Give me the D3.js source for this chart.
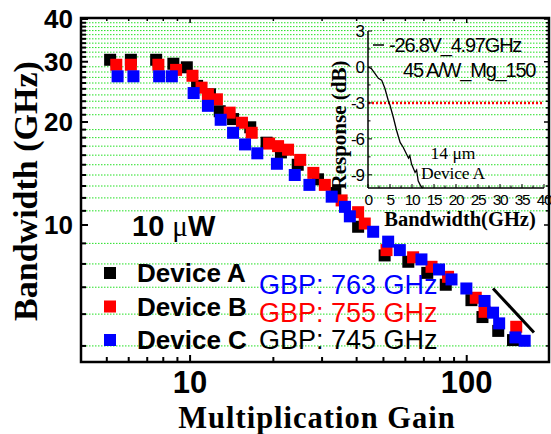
<!DOCTYPE html>
<html>
<head>
<meta charset="utf-8">
<script src="https://cdn.jsdelivr.net/npm/d3@7"></script>
<style>
  body { margin: 0; background: #fff; }
  svg text { fill: #000; }
</style>
</head>
<body>
<div id="chart"></div>
<script>
const width = 551;
const height = 434;

// gain vs bandwidth, three devices
const gainA = [5.14, 6.11, 7.54, 8.70, 9.73, 10.6, 11.8, 12.8, 14.3, 16.5, 18.9, 21.3, 24.5, 29.0, 33.5, 40.5, 50.5, 61.5, 72.0, 84.0, 104, 114, 130, 147];
const bwA   = [30.4, 30.4, 30.4, 29.6, 28.9, 25.5, 24.1, 21.5, 20.4, 19.3, 17.4, 16.3, 15.0, 13.6, 12.4, 9.90, 8.40, 8.10, 7.60, 7.10, 6.50, 5.90, 5.45, 5.17];

const gainB = [5.41, 6.11, 7.68, 8.90, 10.2, 11.0, 11.6, 12.5, 13.9, 15.4, 16.7, 19.3, 20.8, 22.6, 25.0, 27.9, 30.7, 35.3, 40.5, 42.8, 51.3, 64.0, 74.6, 85.6, 107.8, 116, 151];
const bwB   = [29.4, 29.4, 29.4, 28.4, 27.3, 25.2, 24.1, 23.3, 21.3, 19.9, 18.6, 17.3, 17.0, 16.6, 15.5, 14.2, 13.1, 11.8, 10.9, 10.1, 8.66, 8.31, 7.87, 7.43, 6.59, 6.08, 5.58];

const gainC = [5.47, 6.24, 7.73, 8.59, 10.3, 11.6, 12.9, 14.3, 15.8, 17.5, 20.6, 23.9, 27.0, 32.5, 36.3, 37.8, 45.9, 52.0, 57.3, 68.6, 79.4, 88.1, 99.7, 116, 124.5, 131, 150, 162];
const bwC   = [27.2, 27.2, 27.2, 27.2, 24.3, 22.3, 20.3, 18.6, 17.2, 16.2, 15.1, 14.0, 13.1, 12.1, 11.3, 10.6, 9.62, 9.09, 8.66, 8.21, 7.75, 7.32, 6.95, 6.47, 6.05, 5.69, 5.25, 5.15];

const deviceNames = ['Device A', 'Device B', 'Device C'];
const deviceColors = ['#000000', '#ff0000', '#0000ff'];
const gbpLabels = ['GBP: 763 GHz', 'GBP: 755 GHz', 'GBP: 745 GHz'];
const gbpColors = ['#0000ff', '#ff0000', '#000000'];

// slope guide line
const guideGain = [124.5, 175];
const guideBw = [6.95, 5.4];

const xTickLabels = [10, 100];
const yTickLabels = [10, 20, 30, 40];

// inset: frequency response
const insetFreq = [0, 0.8, 1.6, 2.35, 3.1, 3.85, 4.6, 5.0, 5.75, 6.5, 7.3, 8.0, 8.8, 9.2, 9.5, 9.9, 10.7, 11.05, 11.4, 11.8, 12.2, 12.5];
const insetResp = [0, -0.15, -0.55, -0.95, -1.1, -1.8, -2.8, -3.2, -4.2, -5.3, -6.3, -6.7, -7.3, -7.6, -7.4, -8.1, -8.8, -8.6, -9.5, -9.8, -10.05, -10.1];
const insetXTicks = [0, 5, 10, 15, 20, 25, 30, 35, 40];
const insetYTicks = [3, 0, -3, -6, -9];

const svg = d3.select('#chart').append('svg')
    .attr('width', width)
    .attr('height', height);

const x = d3.scaleLog().domain([4, 200]).range([80, 550]);
const y = d3.scaleLog().domain([4.56, 10, 40]).range([362, 225, 19]);

const plotL = 81, plotR = 549, plotT = 18, plotB = 362;
const sans = 'Liberation Sans, Arial, sans-serif';
const serif = 'Liberation Serif, Times New Roman, serif';

// green dotted grid on the minor values
const minorY = d3.range(5, 40).filter(v => v % 10 !== 0);
svg.append('g').selectAll('line')
    .data(minorY)
    .join('line')
    .attr('x1', plotL + 2)
    .attr('x2', plotR - 2)
    .attr('y1', d => y(d))
    .attr('y2', d => y(d))
    .attr('stroke', '#22e022')
    .attr('stroke-width', 1)
    .attr('stroke-dasharray', '1.5,1.5');

// axes (ticks inward)
const minorX = [5, 6, 7, 8, 9, 20, 30, 40, 50, 60, 70, 80, 90];
const axisG = svg.append('g');
axisG.selectAll('.xt')
    .data(minorX.concat(xTickLabels))
    .join('line')
    .attr('x1', d => x(d)).attr('x2', d => x(d))
    .attr('y1', plotB).attr('y2', d => plotB - (xTickLabels.includes(d) ? 7 : 5))
    .attr('stroke', '#000').attr('stroke-width', 2);
axisG.selectAll('.xtt')
    .data(minorX.concat(xTickLabels))
    .join('line')
    .attr('x1', d => x(d)).attr('x2', d => x(d))
    .attr('y1', plotT).attr('y2', d => plotT + (xTickLabels.includes(d) ? 5 : 3))
    .attr('stroke', '#000').attr('stroke-width', 1.5);
const allY = d3.range(5, 41);
axisG.selectAll('.yt')
    .data(allY)
    .join('line')
    .attr('x1', plotL).attr('x2', d => plotL + (yTickLabels.includes(d) ? 7 : 5))
    .attr('y1', d => y(d)).attr('y2', d => y(d))
    .attr('stroke', '#000').attr('stroke-width', 2);
axisG.selectAll('.ytr')
    .data(allY)
    .join('line')
    .attr('x1', plotR).attr('x2', d => plotR - (yTickLabels.includes(d) ? 5 : 3))
    .attr('y1', d => y(d)).attr('y2', d => y(d))
    .attr('stroke', '#000').attr('stroke-width', 1.5);

svg.append('rect')
    .attr('x', plotL).attr('y', plotT)
    .attr('width', plotR - plotL).attr('height', plotB - plotT)
    .attr('fill', 'none').attr('stroke', '#000').attr('stroke-width', 2.5);

svg.append('g').selectAll('text')
    .data(xTickLabels)
    .join('text')
    .attr('x', d => x(d))
    .attr('y', 393)
    .attr('text-anchor', 'middle')
    .attr('font-family', sans)
    .attr('font-weight', 'bold')
    .attr('font-size', 31)
    .text(d => d);

svg.append('g').selectAll('text')
    .data(yTickLabels)
    .join('text')
    .attr('x', 73)
    .attr('y', d => y(d) + 9)
    .attr('text-anchor', 'end')
    .attr('font-family', sans)
    .attr('font-weight', 'bold')
    .attr('font-size', 26)
    .text(d => d);

svg.append('text')
    .attr('x', 317).attr('y', 427.5)
    .attr('text-anchor', 'middle')
    .attr('font-family', serif)
    .attr('font-weight', 'bold')
    .attr('font-size', 30.5)
    .attr('letter-spacing', 1)
    .text('Multiplication Gain');

svg.append('text')
    .attr('transform', 'translate(37,191) rotate(-90)')
    .attr('text-anchor', 'middle')
    .attr('font-family', serif)
    .attr('font-weight', 'bold')
    .attr('font-size', 34)
    .text('Bandwidth (GHz)');

// inset
const ix = d3.scaleLinear().domain([0, 40]).range([368, 544]);
const iy = d3.scaleLinear().domain([-10.1, 3]).range([188, 31]);
const inset = svg.append('g');

inset.append('line')
    .attr('x1', ix(0)).attr('x2', ix(40))
    .attr('y1', iy(-3)).attr('y2', iy(-3))
    .attr('stroke', '#ff0000').attr('stroke-width', 2.5)
    .attr('stroke-dasharray', '2,2');

inset.append('path')
    .datum(d3.zip(insetFreq, insetResp))
    .attr('d', d3.line().x(d => ix(d[0])).y(d => iy(d[1])))
    .attr('fill', 'none').attr('stroke', '#000').attr('stroke-width', 1.3);

inset.append('line')
    .attr('x1', ix(0)).attr('x2', ix(40)).attr('y1', iy(-10.1)).attr('y2', iy(-10.1))
    .attr('stroke', '#000').attr('stroke-width', 1.5);
inset.append('line')
    .attr('x1', ix(0)).attr('x2', ix(0)).attr('y1', iy(-10.1)).attr('y2', iy(3))
    .attr('stroke', '#000').attr('stroke-width', 1.5);
inset.selectAll('.ixt')
    .data(d3.range(0, 40.1, 2.5))
    .join('line')
    .attr('x1', d => ix(d)).attr('x2', d => ix(d))
    .attr('y1', iy(-10.1)).attr('y2', d => iy(-10.1) - (d % 5 === 0 ? 4 : 2.5))
    .attr('stroke', '#000').attr('stroke-width', 1);
inset.selectAll('.iyt')
    .data(d3.range(-9, 3.1, 1.5))
    .join('line')
    .attr('x1', ix(0)).attr('x2', d => ix(0) + (d % 3 === 0 ? 4 : 2.5))
    .attr('y1', d => iy(d)).attr('y2', d => iy(d))
    .attr('stroke', '#000').attr('stroke-width', 1);

inset.selectAll('.ixl')
    .data(insetXTicks)
    .join('text')
    .attr('x', d => ix(d)).attr('y', 204.5)
    .attr('text-anchor', 'middle')
    .attr('font-family', sans)
    .attr('font-size', 15.5).attr('letter-spacing', -1.4)
    .text(d => d);
inset.selectAll('.iyl')
    .data(insetYTicks)
    .join('text')
    .attr('x', 364).attr('y', d => iy(d) + 6)
    .attr('text-anchor', 'end')
    .attr('font-family', sans)
    .attr('font-size', 17).attr('letter-spacing', -1)
    .text(d => d);

inset.append('text')
    .attr('x', 460).attr('y', 226)
    .attr('text-anchor', 'middle')
    .attr('font-family', serif)
    .attr('font-weight', 'bold')
    .attr('font-size', 20.5)
    .text('Bandwidth(GHz)');
inset.append('text')
    .attr('transform', 'translate(346,125) rotate(-90)')
    .attr('text-anchor', 'middle')
    .attr('font-family', serif)
    .attr('font-weight', 'bold')
    .attr('font-size', 21)
    .text('Response (dB)');

inset.append('line')
    .attr('x1', 373).attr('x2', 384).attr('y1', 45).attr('y2', 45)
    .attr('stroke', '#000').attr('stroke-width', 1.5);
inset.append('text')
    .attr('x', 389).attr('y', 52)
    .attr('font-family', sans)
    .attr('font-size', 20).attr('letter-spacing', -1.2)
    .text('-26.8V_4.97GHz');
inset.append('text')
    .attr('x', 403).attr('y', 77)
    .attr('font-family', sans)
    .attr('font-size', 20).attr('letter-spacing', -1.2)
    .text('45 A/W_Mg_150');
inset.append('text')
    .attr('x', 453).attr('y', 159)
    .attr('text-anchor', 'middle')
    .attr('font-family', serif)
    .attr('font-size', 17.5)
    .text('14 \u03bcm');
inset.append('text')
    .attr('x', 453).attr('y', 179)
    .attr('text-anchor', 'middle')
    .attr('font-family', serif)
    .attr('font-size', 17.5).attr('letter-spacing', -0.2)
    .text('Device A');

// data squares
const series = [
    d3.zip(gainA, bwA),
    d3.zip(gainB, bwB),
    d3.zip(gainC, bwC)
];
const sq = 12;
series.forEach((pts, i) => {
    svg.append('g').selectAll('rect')
        .data(pts)
        .join('rect')
        .attr('x', d => x(d[0]) - sq / 2)
        .attr('y', d => y(d[1]) - sq / 2)
        .attr('width', sq).attr('height', sq)
        .attr('fill', deviceColors[i]);
});

svg.append('line')
    .attr('x1', x(guideGain[0])).attr('y1', y(guideBw[0]))
    .attr('x2', x(guideGain[1])).attr('y2', y(guideBw[1]))
    .attr('stroke', '#000').attr('stroke-width', 3);

// labels in plot
const uw = svg.append('text')
    .attr('x', 132).attr('y', 236)
    .attr('font-family', sans)
    .attr('font-weight', 'bold')
    .attr('font-size', 29);
uw.append('tspan').text('10 ');
uw.append('tspan').attr('font-family', serif).attr('font-weight', 'normal').text('\u03bc');
uw.append('tspan').text('W');

const legend = svg.append('g').selectAll('g')
    .data(deviceNames)
    .join('g')
    .attr('transform', (d, i) => `translate(0,${273 + i * 33.5})`);
legend.append('rect')
    .attr('x', 104).attr('y', -6).attr('width', sq).attr('height', sq)
    .attr('fill', (d, i) => deviceColors[i]);
legend.append('text')
    .attr('x', 137).attr('y', 9)
    .attr('font-family', sans)
    .attr('font-weight', 'bold')
    .attr('font-size', 26)
    .text(d => d);

svg.append('g').selectAll('text')
    .data(gbpLabels)
    .join('text')
    .attr('x', 259)
    .attr('y', (d, i) => 294 + i * 27.5)
    .style('fill', (d, i) => gbpColors[i])
    .attr('font-family', sans)
    .attr('font-size', 27)
    .text(d => d);
</script>
</body>
</html>
